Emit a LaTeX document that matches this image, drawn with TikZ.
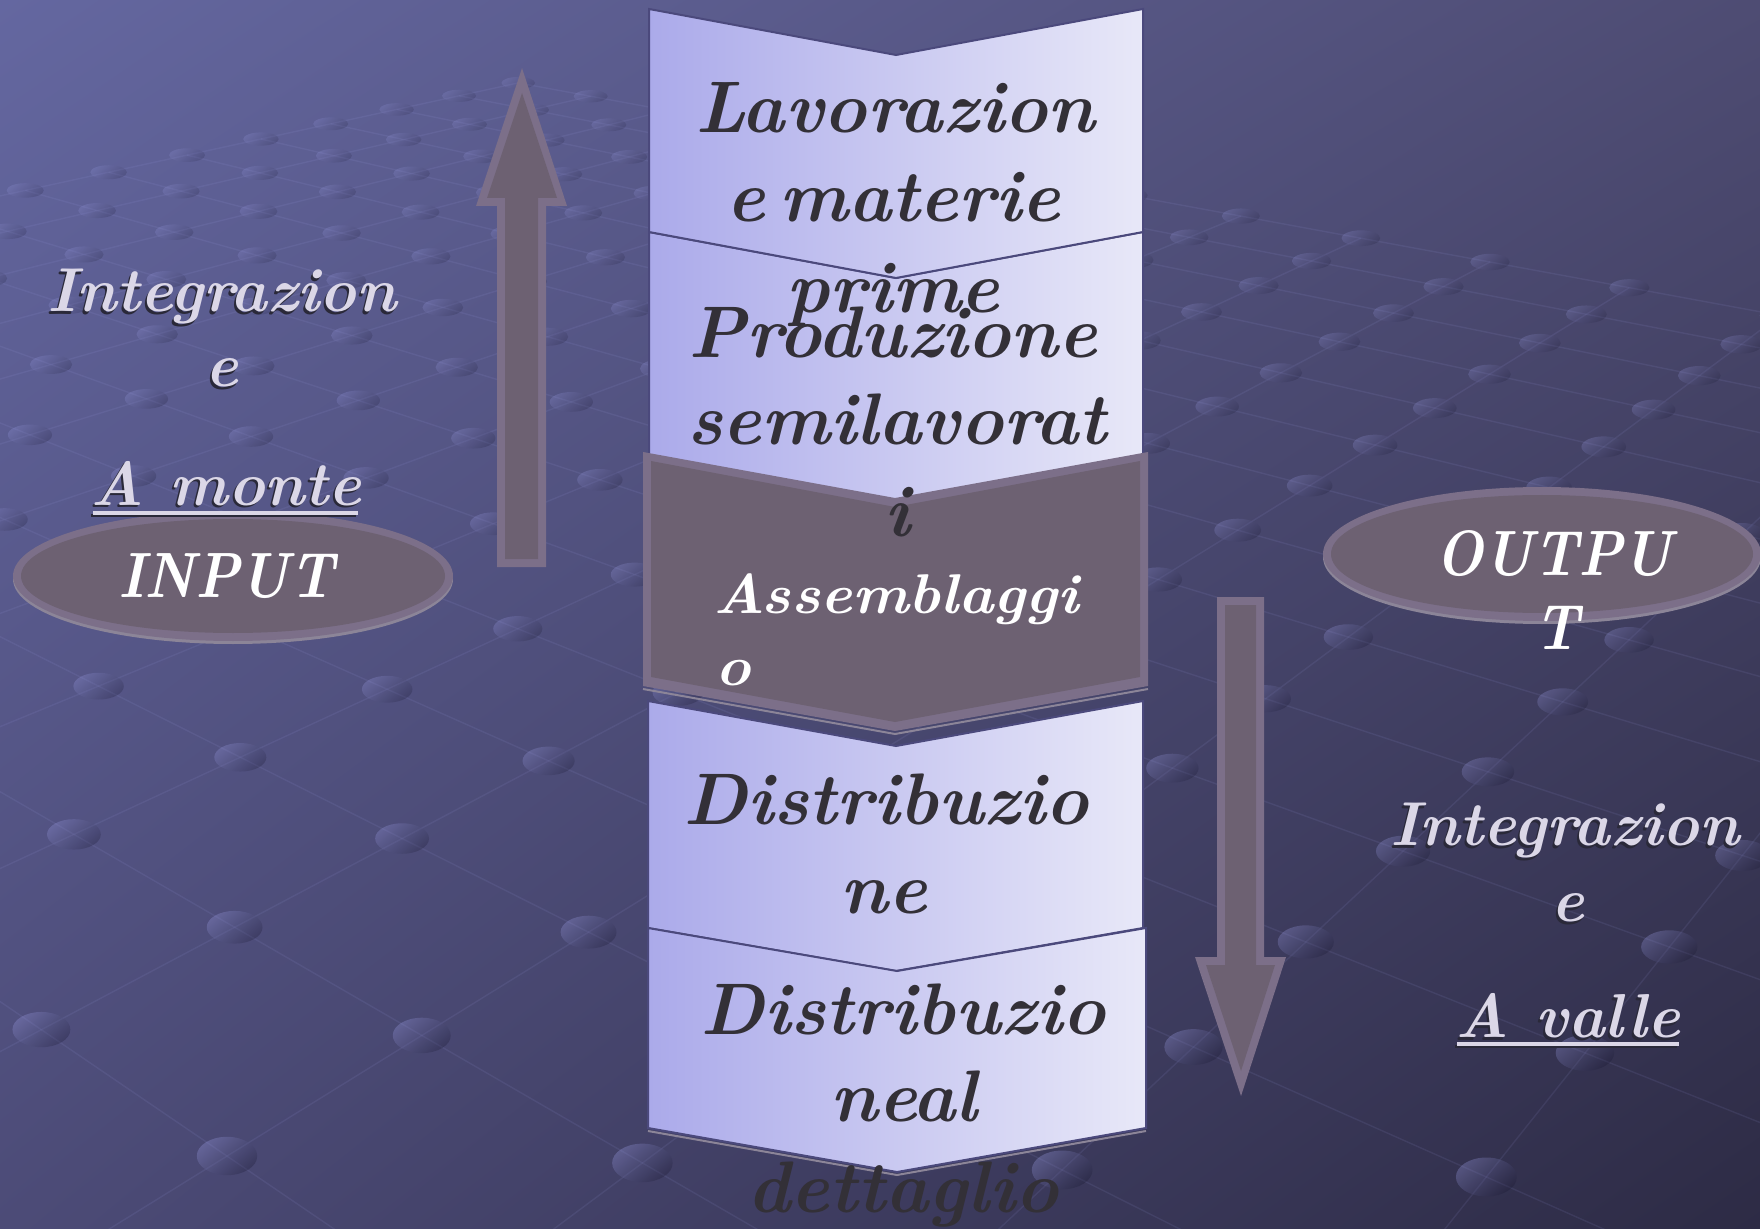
\documentclass[tikz,border=0pt]{standalone}
\usepackage{fontspec}
\usetikzlibrary{shadings}

\definecolor{bgTL}{HTML}{6467A0}
\definecolor{bgTR}{HTML}{4E4C73}
\definecolor{bgBL}{HTML}{4C4B77}
\definecolor{bgBR}{HTML}{2D2B45}
\definecolor{gridCol}{HTML}{A2A4EC}
\definecolor{dotHi}{HTML}{A4A6F0}
\definecolor{dotLo}{HTML}{15142C}
\definecolor{chevL}{HTML}{ABAAEA}
\definecolor{chevR}{HTML}{E8E8F8}
\definecolor{chevEdge}{HTML}{4B497C}
\definecolor{blockFill}{HTML}{6D6172}
\definecolor{blockRim}{HTML}{7C6F89}
\definecolor{blockShadow}{HTML}{8C8598}
\definecolor{txtDark}{HTML}{333037}
\definecolor{txtSide}{HTML}{DBD7E7}
\definecolor{txtShadow}{HTML}{2A2939}

% perspective floor: lattice point (a,b) -> picture coordinates \flX,\flY
\newcommand\floorpoint[2]{%
  \pgfmathsetmacro\flD{1+0.076598*(#1)-0.07214*(#2)}%
  \pgfmathsetmacro\flX{(-156.49*(#1)-197.957*(#2)+945.622)/\flD}%
  \pgfmathsetmacro\flY{(-29.805*(#1)+29.041*(#2)+937.047)/\flD}}

\tikzset{
  gridline/.style={draw=gridCol, draw opacity=0.10, line width=0.7pt},
  floordot/.style={top color=dotHi, bottom color=dotLo, shading angle=40},
  lightchev/.style={left color=chevL, right color=chevR, draw=chevEdge, line width=1pt, line join=miter},
  chevtext/.style={inner sep=0pt, anchor=base, text=txtDark,
    font=\fontsize{36.5}{40}\selectfont\bfseries\itshape},
  blocktext/.style={inner sep=0pt, anchor=base west, text=white,
    font=\fontsize{28}{32}\selectfont\bfseries\itshape},
  ovaltext/.style={inner sep=0pt, anchor=base, text=white,
    font=\fontsize{32}{36}\selectfont\bfseries\itshape},
  sidetext/.style={inner sep=0pt, anchor=base, text=txtSide,
    font=\fontsize{31}{34}\selectfont\bfseries\itshape},
  sideshadow/.style={sidetext, text=txtShadow, xshift=-1pt, yshift=-1.5pt},
  underline/.style={draw=txtSide, line width=1.75pt},
  underlineshadow/.style={draw=txtShadow, line width=1.75pt, xshift=-0.8pt, yshift=-1.2pt},
}

\begin{document}
\begin{tikzpicture}[x=0.5pt,y=-0.5pt]
\useasboundingbox (0,0) rectangle (1760,1229);

% ---------- background ----------
\begin{scope}
  \clip (0,0) rectangle (1760,1229);
  \shade[upper left=bgTL, upper right=bgTR, lower left=bgBL, lower right=bgBR]
    (0,0) rectangle (1760,1229);
  % lattice lines
  \foreach \a in {-3,...,12}{
    \floorpoint{\a}{6}
    \coordinate (ga) at (\flX,\flY);
    \floorpoint{\a}{-12}
    \coordinate (gb) at (\flX,\flY);
    \draw[gridline] (ga) -- (gb);
  }
  \foreach \b in {-12,...,6}{
    \floorpoint{-3}{\b}
    \coordinate (ga) at (\flX,\flY);
    \floorpoint{12}{\b}
    \coordinate (gb) at (\flX,\flY);
    \draw[gridline] (ga) -- (gb);
  }
  % lattice studs, fainter with distance
  \foreach \a in {-3,...,12}{
    \foreach \b in {-12,...,6}{
      \floorpoint{\a}{\b}
      \pgfmathsetmacro\flRx{28/sqrt(\flD)}
      \pgfmathsetmacro\flRy{16.5/\flD}
      \pgfmathsetmacro\flOp{min(0.3,0.27/sqrt(\flD))}
      \shade[floordot, fill opacity=\flOp] (\flX,\flY) ellipse [x radius=\flRx, y radius=\flRy];
    }
  }
\end{scope}

% ---------- process chevrons ----------
\shadedraw[lightchev] (649,232) -- (896,278) -- (1143,232) -- (1143,455) -- (896,501) -- (649,455) -- cycle;
\shadedraw[lightchev] (649,9) -- (896,55) -- (1143,9) -- (1143,232) -- (896,278) -- (649,232) -- cycle;

% assembly block
\draw[blockShadow, line width=1pt] (643,689) -- (895,734) -- (1148,689);
\fill[blockRim] (643,452) -- (895,498) -- (1148,452) -- (1148,686) -- (895,731) -- (643,686) -- cycle;
\fill[blockFill] (651,461) -- (895,507) -- (1140,461) -- (1140,677) -- (895,722) -- (651,677) -- cycle;

\node[chevtext] (c1a) at (895,133) {Lavorazion};
\node[chevtext] (c1b) at (893,222) {e\hspace{0.2em}materie};
\node[chevtext] (c1c) at (893,313) {prime};
\node[chevtext] (c2a) at (893,358) {Produzione};
\node[chevtext] (c2b) at (897,445) {semilavorat};
\node[chevtext] (c2c) at (897,537) {i};
\node[blocktext] (c3a) at (713,613) {\scalebox{1.07}[1]{Assemblaggi}};
\node[blocktext] (c3b) at (715,685) {\scalebox{1.07}[1]{o}};

\shadedraw[lightchev] (648,701) -- (896,746) -- (1143,701) -- (1143,928) -- (896,971) -- (648,928) -- cycle;
\node[chevtext] (c4a) at (886,824) {Distribuzio};
\node[chevtext] (c4b) at (884,913) {ne};

\draw[blockShadow, line width=1pt] (648,1131) -- (897,1175) -- (1146,1131);
\shadedraw[lightchev] (648,928) -- (897,971) -- (1146,928) -- (1146,1128) -- (897,1172) -- (648,1128) -- cycle;
\node[chevtext] (c5a) at (903,1034) {Distribuzio};
\node[chevtext] (c5b) at (904,1121) {neal};
\node[chevtext] (c5c) at (903,1212) {dettaglio};

% ---------- block arrows ----------
\fill[blockRim] (522,68) -- (567,206) -- (546,206) -- (546,567) -- (497,567) -- (497,206) -- (476,206) -- cycle;
\fill[blockFill] (522,93) -- (557,198) -- (538,198) -- (538,559) -- (505,559) -- (505,198) -- (487,198) -- cycle;

\fill[blockRim] (1217,597) -- (1264,597) -- (1264,957) -- (1286,957) -- (1241,1096) -- (1195,957) -- (1217,957) -- cycle;
\fill[blockFill] (1225,605) -- (1256,605) -- (1256,965) -- (1275,965) -- (1241,1071) -- (1206,965) -- (1225,965) -- cycle;

% ---------- input / output ovals ----------
\fill[blockShadow] (233,579) ellipse [x radius=220, y radius=65];
\fill[blockRim] (233,576) ellipse [x radius=220, y radius=65];
\fill[blockFill] (233,576) ellipse [x radius=212, y radius=57];
\node[ovaltext] (inp) at (226,597) {\scalebox{0.88}[1]{INPUT}};

\fill[blockShadow] (1542,557) ellipse [x radius=219, y radius=67];
\fill[blockRim] (1542,554) ellipse [x radius=219, y radius=67];
\fill[blockFill] (1542,554) ellipse [x radius=211, y radius=59];
\node[ovaltext] (outa) at (1554,575) {\scalebox{0.88}[1]{OUTPU}};
\node[ovaltext] (outb) at (1557,649) {\scalebox{0.88}[1]{T}};

% ---------- side captions ----------
\node[sideshadow] (l1s) at (222,312) {Integrazion};
\node[sidetext]   (l1)  at (222,312) {Integrazion};
\node[sideshadow] (l2s) at (222,387) {e};
\node[sidetext]   (l2)  at (222,387) {e};
\node[sideshadow] (l3s) at (226,505) {A monte};
\node[sidetext]   (l3)  at (226,505) {A monte};
\draw[underlineshadow] (93,513) -- (358,513);
\draw[underline] (93,513) -- (358,513);

\node[sideshadow] (r1s) at (1565,845) {Integrazion};
\node[sidetext]   (r1)  at (1565,845) {Integrazion};
\node[sideshadow] (r2s) at (1568,921) {e};
\node[sidetext]   (r2)  at (1568,921) {e};
\node[sideshadow] (r3s) at (1568,1037) {A valle};
\node[sidetext]   (r3)  at (1568,1037) {A valle};
\draw[underlineshadow] (1457,1044) -- (1679,1044);
\draw[underline] (1457,1044) -- (1679,1044);
\end{tikzpicture}
\end{document}
